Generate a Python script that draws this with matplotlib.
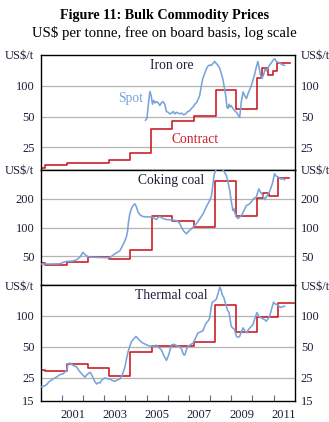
"""Figure 11: Bulk commodity prices -- spot vs contract, three log-scale panels."""

import matplotlib

matplotlib.use("Agg")
import matplotlib.pyplot as plt
from matplotlib.ticker import FixedLocator, NullLocator, FixedFormatter

plt.rcParams["font.family"] = ["Liberation Serif", "DejaVu Serif"]

SPOT_COLOR = "#79a3d9"
CONTRACT_COLOR = "#cc1f2a"
GRID_COLOR = "#b4b4b4"
TEXT_COLOR = "#1e1e3a"

# ---------------------------------------------------------------------------
# Iron ore
IRON_SPOT_T = [2004.95, 2005.02, 2005.1, 2005.16, 2005.22, 2005.28, 2005.34, 2005.4, 2005.47,
               2005.55, 2005.63, 2005.7, 2005.78, 2005.86, 2005.94, 2006.02, 2006.1, 2006.18,
               2006.26, 2006.34, 2006.42, 2006.5, 2006.58, 2006.65, 2006.75, 2006.85, 2006.95,
               2007.05, 2007.12, 2007.2, 2007.28, 2007.36, 2007.44, 2007.51, 2007.59, 2007.66,
               2007.75, 2007.82, 2007.9, 2007.99, 2008.06, 2008.14, 2008.22, 2008.3, 2008.38,
               2008.46, 2008.54, 2008.61, 2008.68, 2008.74, 2008.8, 2008.85, 2008.9, 2008.95,
               2009.0, 2009.08, 2009.16, 2009.25, 2009.32, 2009.4, 2009.48, 2009.56, 2009.64,
               2009.72, 2009.8, 2009.87, 2009.95, 2010.03, 2010.1, 2010.18, 2010.26, 2010.32,
               2010.38, 2010.45, 2010.53, 2010.6, 2010.66, 2010.74, 2010.82, 2010.9, 2011.0,
               2011.05, 2011.12, 2011.2, 2011.29, 2011.36, 2011.44, 2011.52]
IRON_SPOT_V = [46, 48, 70, 88, 80, 66, 72, 68, 70,
               68, 64, 68, 70, 66, 56, 55, 53, 54,
               56, 53, 55, 54, 53, 54, 52, 53, 56,
               57, 60, 62, 66, 68, 74, 80, 100, 118,
               132, 145, 155, 160, 158, 165, 173, 165, 158,
               148, 130, 115, 95, 81, 62, 60, 66, 62,
               64, 60, 57, 55, 52, 49, 70, 87, 80,
               75, 84, 91, 100, 114, 127, 150, 173, 150,
               127, 118, 128, 145, 140, 150, 160, 168, 180,
               184, 174, 170, 168, 163, 160, 158]
IRON_CONTRACT_T = [2000.0, 2000.22, 2001.22, 2003.25, 2004.22, 2005.22, 2006.22, 2007.22,
                   2008.27, 2009.22, 2010.22, 2010.47, 2010.72, 2010.97, 2011.18, 2011.76]
IRON_CONTRACT_V = [15.6, 16.8, 17.4, 18.9, 21.8, 38, 45.2, 50.2, 90.7, 59.8, 120, 148, 127, 140, 166]

# Coking coal
COKING_SPOT_T = [2000.0, 2000.5, 2000.91, 2001.05, 2001.23, 2001.5, 2001.7, 2001.85, 2002.0,
                 2002.1, 2002.2, 2002.33, 2002.8, 2003.27, 2003.4, 2003.5, 2003.62, 2003.74,
                 2003.86, 2003.98, 2004.05, 2004.1, 2004.15, 2004.21, 2004.3, 2004.37, 2004.45,
                 2004.52, 2004.6, 2004.7, 2004.84, 2005.0, 2005.24, 2005.35, 2005.47, 2005.55,
                 2005.63, 2005.75, 2005.94, 2006.2, 2006.42, 2006.55, 2006.65, 2006.75, 2006.89,
                 2007.0, 2007.12, 2007.25, 2007.36, 2007.5, 2007.67, 2007.8, 2007.9, 2008.0,
                 2008.07, 2008.14, 2008.2, 2008.27, 2008.4, 2008.54, 2008.65, 2008.77, 2008.85,
                 2008.93, 2009.0, 2009.08, 2009.12, 2009.16, 2009.24, 2009.32, 2009.4, 2009.48,
                 2009.6, 2009.72, 2009.85, 2009.95, 2010.05, 2010.19, 2010.27, 2010.31, 2010.38,
                 2010.5, 2010.58, 2010.7, 2010.82, 2010.95, 2011.05, 2011.12, 2011.21, 2011.3,
                 2011.37, 2011.45, 2011.52]
COKING_SPOT_V = [41.5, 41.5, 41.7, 43, 44.2, 44.5, 46, 49, 55,
                 52, 50, 49, 48.5, 48.3, 51, 53, 55, 57,
                 64, 73, 80, 90, 115, 139, 160, 170, 177,
                 165, 145, 135, 130, 129, 129, 125, 121, 128,
                 130, 125, 121, 120, 118, 112, 101, 92, 86,
                 92, 97, 104, 110, 122, 139, 160, 177, 195,
                 215, 287, 360, 400, 420, 415, 390, 351, 300,
                 245, 190, 151, 158, 145, 130, 124, 128, 133,
                 150, 170, 175, 185, 200, 209, 240, 254, 235,
                 217, 196, 215, 240, 290, 366, 345, 338, 330,
                 320, 325, 316]
COKING_CONTRACT_T = [2000.0, 2000.22, 2001.22, 2002.22, 2003.24, 2004.22, 2005.24, 2006.22,
                     2007.23, 2008.25, 2009.24, 2010.22, 2010.5, 2010.78, 2011.21, 2011.73]
COKING_CONTRACT_V = [42.8, 40.7, 43.5, 49, 47, 58.5, 130.7, 117, 101, 306, 132, 205, 229, 213, 330]

# Thermal coal
THERMAL_SPOT_T = [2000.0, 2000.09, 2000.2, 2000.28, 2000.4, 2000.59, 2000.75, 2000.91, 2001.05,
                  2001.15, 2001.23, 2001.3, 2001.4, 2001.46, 2001.55, 2001.7, 2001.8, 2001.93,
                  2002.0, 2002.09, 2002.2, 2002.33, 2002.4, 2002.48, 2002.56, 2002.64, 2002.72,
                  2002.8, 2002.9, 2003.03, 2003.15, 2003.27, 2003.4, 2003.5, 2003.62, 2003.74,
                  2003.86, 2003.98, 2004.05, 2004.13, 2004.2, 2004.29, 2004.4, 2004.5, 2004.58,
                  2004.68, 2004.8, 2005.0, 2005.15, 2005.31, 2005.45, 2005.55, 2005.71, 2005.82,
                  2005.94, 2006.05, 2006.18, 2006.3, 2006.42, 2006.55, 2006.65, 2006.75, 2006.81,
                  2006.9, 2006.96, 2007.1, 2007.2, 2007.3, 2007.43, 2007.55, 2007.67, 2007.75,
                  2007.83, 2007.92, 2007.99, 2008.05, 2008.11, 2008.2, 2008.3, 2008.38, 2008.46,
                  2008.52, 2008.58, 2008.66, 2008.74, 2008.82, 2008.9, 2008.96, 2009.0, 2009.08,
                  2009.16, 2009.22, 2009.25, 2009.33, 2009.4, 2009.48, 2009.56, 2009.64, 2009.72,
                  2009.82, 2009.92, 2010.03, 2010.12, 2010.22, 2010.3, 2010.4, 2010.5, 2010.58,
                  2010.66, 2010.74, 2010.82, 2010.9, 2011.0, 2011.1, 2011.21, 2011.3, 2011.37,
                  2011.45, 2011.52]
THERMAL_SPOT_V = [20.5, 20.5, 21, 21.5, 23, 24.4, 25.5, 26.9, 27.3,
                  28.5, 29.6, 34.4, 34.8, 34, 33, 31.9, 29.5, 27.5,
                  26.5, 25.4, 27, 28.4, 27, 25, 23, 21.8, 22.5,
                  22.3, 24, 25, 24.5, 24.4, 23.5, 23.1, 23.8, 24.4,
                  27, 31.9, 38, 45, 50, 56.4, 60, 63.3, 61,
                  57.7, 55, 52.3, 51, 50.5, 52, 50, 46.7, 41,
                  37, 42, 52.3, 53, 51.5, 50.5, 48, 42, 41.7,
                  48, 50.5, 53, 54.5, 60, 68.4, 70, 72, 80,
                  86, 90, 96.4, 120, 136, 140, 146, 165, 191,
                  180, 160, 150, 130, 115, 108, 90, 79.6, 76,
                  74, 66, 63.3, 62, 63.3, 70, 76.6, 72, 68.4,
                  74, 78, 82.7, 95, 108, 100, 96.4, 94, 92,
                  89, 94, 100, 115, 136, 130, 127.7, 122, 121,
                  124, 124]
THERMAL_CONTRACT_T = [2000.0, 2000.22, 2001.22, 2002.22, 2003.24, 2004.22, 2005.24, 2007.23,
                      2008.25, 2009.24, 2010.22, 2011.22, 2011.95]
THERMAL_CONTRACT_V = [29.6, 28.9, 34.4, 31.4, 26, 44.6, 51.6, 55.7, 127.7, 70, 98.6, 133.7]

PANELS = [
    # name, spot t, spot v, contract t, contract v, ylim, ticks, labels
    ("Iron ore", IRON_SPOT_T, IRON_SPOT_V, IRON_CONTRACT_T, IRON_CONTRACT_V,
     (15, 200), [25, 50, 100, 200], ["25", "50", "100", "US$/t"]),
    ("Coking coal", COKING_SPOT_T, COKING_SPOT_V, COKING_CONTRACT_T, COKING_CONTRACT_V,
     (25, 400), [50, 100, 200, 400], ["50", "100", "200", "US$/t"]),
    ("Thermal coal", THERMAL_SPOT_T, THERMAL_SPOT_V, THERMAL_CONTRACT_T, THERMAL_CONTRACT_V,
     (15, 200), [15, 25, 50, 100, 200], ["15", "25", "50", "100", "US$/t"]),
]
YEAR_TICKS = list(range(2001, 2012))
YEAR_LABELS = ["2001", "2003", "2005", "2007", "2009", "2011"]


def style_axis(ax, ylim, ticks, labels):
    ax.set_yscale("log")
    ax.set_ylim(*ylim)
    ax.set_xlim(2000, 2012)
    ax.yaxis.set_major_locator(FixedLocator(ticks))
    ax.yaxis.set_major_formatter(FixedFormatter(labels))
    ax.yaxis.set_minor_locator(NullLocator())
    ax.tick_params(axis="y", which="both", length=0, pad=4.5, labelsize=9,
                   labelcolor=TEXT_COLOR, left=True, right=True, labelleft=True, labelright=True)
    for t in ticks:
        if ylim[0] < t < ylim[1]:
            ax.axhline(t, color=GRID_COLOR, lw=0.9, zorder=0)
    for sp in ax.spines.values():
        sp.set_linewidth(1.0)
        sp.set_color("black")


fig = plt.figure(figsize=(3.29, 4.22), dpi=100)
left, width = 0.1237, 0.772
bounds = [(0.5972, 0.8697), (0.3246, 0.5972), (0.0505, 0.3246)]
axes = []
for (name, st, sv, ct, cv, ylim, ticks, labels), (b, t) in zip(PANELS, bounds):
    ax = fig.add_axes([left, b, width, t - b])
    ax.plot(st, sv, color=SPOT_COLOR, lw=1.15, zorder=3)
    ax.step(ct, cv + [cv[-1]], where="post", color=CONTRACT_COLOR, lw=1.2, zorder=2)
    style_axis(ax, ylim, ticks, labels)
    ax.text(0.515, 0.91, name, transform=ax.transAxes, ha="center", va="center",
            fontsize=9.8, color=TEXT_COLOR)
    ax.set_xticks([])
    axes.append(ax)

# series labels in the iron ore panel
axes[0].text(2004.26, 75, "Spot", color=SPOT_COLOR, ha="center", va="center", fontsize=9.8)
axes[0].text(2007.28, 29.6, "Contract", color=CONTRACT_COLOR, ha="center", va="center", fontsize=9.8)

# year ticks on the bottom panel only: marks at year starts, labels mid-year
bot = axes[-1]
bot.xaxis.set_major_locator(FixedLocator(YEAR_TICKS))
bot.xaxis.set_major_formatter(FixedFormatter([""] * len(YEAR_TICKS)))
bot.xaxis.set_minor_locator(FixedLocator([int(y) + 0.5 for y in YEAR_LABELS]))
bot.xaxis.set_minor_formatter(FixedFormatter(YEAR_LABELS))
bot.tick_params(axis="x", which="major", direction="in", length=4, width=0.8, color="#5a6a9a")
bot.tick_params(axis="x", which="minor", length=0, pad=6, labelsize=9, labelcolor=TEXT_COLOR)

fig.text(0.5, 1 - 15 / 422, "Figure 11: Bulk Commodity Prices", ha="center", va="center",
         fontsize=10.2, fontweight="bold")
fig.text(0.5, 1 - 33 / 422, "US$ per tonne, free on board basis, log scale", ha="center",
         va="center", fontsize=10.6)

fig.savefig("out.png", dpi=100)
